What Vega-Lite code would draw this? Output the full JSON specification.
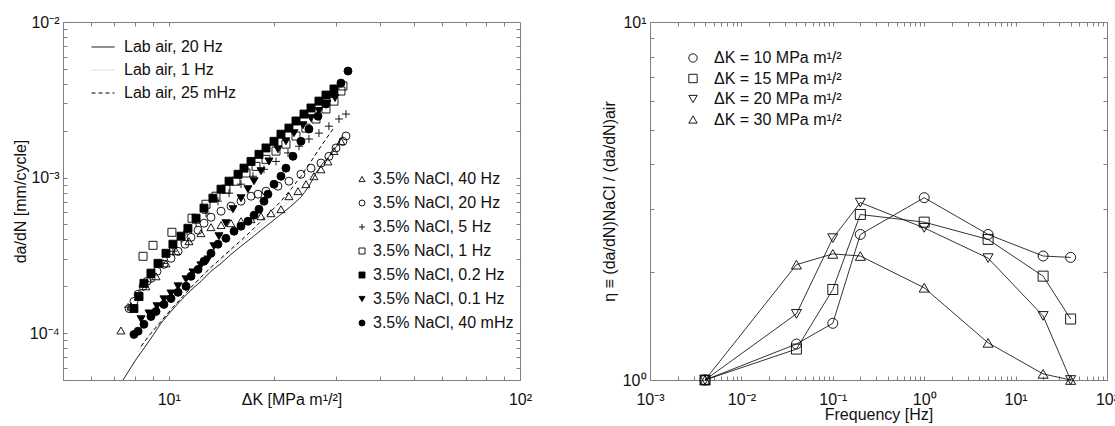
{
  "$schema": "https://vega.github.io/schema/vega-lite/v6.json",
  "background": "white",
  "padding": {"left": 11, "top": 13, "right": 0, "bottom": 0},
  "spacing": 130,
  "bounds": "flush",
  "config": {
    "font": "Liberation Sans",
    "view": {"stroke": "#7f7f7f", "strokeWidth": 1},
    "axis": {
      "labelFont": "Liberation Sans", "titleFont": "Liberation Sans",
      "labelFontSize": 16, "titleFontSize": 16, "titleFontWeight": "normal",
      "labelColor": "#111111", "titleColor": "#111111",
      "domainColor": "#7f7f7f", "tickColor": "#7f7f7f", "tickSize": -4, "tickWidth": 1,
      "grid": false, "labelFlush": false, "labelOverlap": false
    },
    "axisX": {"labelPadding": 15},
    "axisY": {"labelPadding": 8},
    "legend": {"labelFont": "Liberation Sans", "labelFontSize": 16, "labelColor": "#111111", "padding": 0}
  },
  "datasets": {
    "air": [
      {"air": "Lab air, 20 Hz", "dK": 7.41, "dadN": 5.0e-5},
      {"air": "Lab air, 20 Hz", "dK": 7.71, "dadN": 5.76e-5},
      {"air": "Lab air, 20 Hz", "dK": 8.07, "dadN": 6.78e-5},
      {"air": "Lab air, 20 Hz", "dK": 8.50, "dadN": 7.99e-5},
      {"air": "Lab air, 20 Hz", "dK": 9.02, "dadN": 9.68e-5},
      {"air": "Lab air, 20 Hz", "dK": 9.51, "dadN": 1.16e-4},
      {"air": "Lab air, 20 Hz", "dK": 10.15, "dadN": 1.38e-4},
      {"air": "Lab air, 20 Hz", "dK": 10.84, "dadN": 1.63e-4},
      {"air": "Lab air, 20 Hz", "dK": 11.57, "dadN": 1.89e-4},
      {"air": "Lab air, 20 Hz", "dK": 12.35, "dadN": 2.15e-4},
      {"air": "Lab air, 20 Hz", "dK": 13.19, "dadN": 2.50e-4},
      {"air": "Lab air, 20 Hz", "dK": 14.09, "dadN": 2.81e-4},
      {"air": "Lab air, 20 Hz", "dK": 15.04, "dadN": 3.21e-4},
      {"air": "Lab air, 20 Hz", "dK": 16.06, "dadN": 3.62e-4},
      {"air": "Lab air, 20 Hz", "dK": 17.15, "dadN": 4.07e-4},
      {"air": "Lab air, 20 Hz", "dK": 18.31, "dadN": 4.59e-4},
      {"air": "Lab air, 20 Hz", "dK": 19.55, "dadN": 5.16e-4},
      {"air": "Lab air, 20 Hz", "dK": 20.87, "dadN": 5.81e-4},
      {"air": "Lab air, 20 Hz", "dK": 22.28, "dadN": 6.55e-4},
      {"air": "Lab air, 20 Hz", "dK": 23.79, "dadN": 7.48e-4},
      {"air": "Lab air, 20 Hz", "dK": 25.07, "dadN": 8.81e-4},
      {"air": "Lab air, 20 Hz", "dK": 26.25, "dadN": 1.07e-3},
      {"air": "Lab air, 20 Hz", "dK": 27.49, "dadN": 1.24e-3},
      {"air": "Lab air, 20 Hz", "dK": 28.96, "dadN": 1.41e-3},
      {"air": "Lab air, 20 Hz", "dK": 30.32, "dadN": 1.64e-3},
      {"air": "Lab air, 20 Hz", "dK": 31.33, "dadN": 1.85e-3},
      {"air": "Lab air, 1 Hz", "dK": 8.18, "dadN": 7.64e-5},
      {"air": "Lab air, 1 Hz", "dK": 8.61, "dadN": 9.12e-5},
      {"air": "Lab air, 1 Hz", "dK": 9.20, "dadN": 1.11e-4},
      {"air": "Lab air, 1 Hz", "dK": 9.82, "dadN": 1.32e-4},
      {"air": "Lab air, 1 Hz", "dK": 10.49, "dadN": 1.56e-4},
      {"air": "Lab air, 1 Hz", "dK": 11.20, "dadN": 1.80e-4},
      {"air": "Lab air, 1 Hz", "dK": 11.96, "dadN": 2.09e-4},
      {"air": "Lab air, 1 Hz", "dK": 12.77, "dadN": 2.43e-4},
      {"air": "Lab air, 1 Hz", "dK": 13.63, "dadN": 2.77e-4},
      {"air": "Lab air, 1 Hz", "dK": 14.55, "dadN": 3.17e-4},
      {"air": "Lab air, 1 Hz", "dK": 15.54, "dadN": 3.62e-4},
      {"air": "Lab air, 1 Hz", "dK": 16.59, "dadN": 4.07e-4},
      {"air": "Lab air, 1 Hz", "dK": 17.72, "dadN": 4.59e-4},
      {"air": "Lab air, 1 Hz", "dK": 18.92, "dadN": 5.24e-4},
      {"air": "Lab air, 1 Hz", "dK": 20.20, "dadN": 5.90e-4},
      {"air": "Lab air, 1 Hz", "dK": 21.56, "dadN": 6.74e-4},
      {"air": "Lab air, 1 Hz", "dK": 23.03, "dadN": 7.82e-4},
      {"air": "Lab air, 1 Hz", "dK": 24.58, "dadN": 9.21e-4},
      {"air": "Lab air, 1 Hz", "dK": 25.75, "dadN": 1.07e-3},
      {"air": "Lab air, 1 Hz", "dK": 26.77, "dadN": 1.22e-3},
      {"air": "Lab air, 1 Hz", "dK": 28.03, "dadN": 1.37e-3},
      {"air": "Lab air, 25 mHz", "dK": 8.34, "dadN": 8.23e-5},
      {"air": "Lab air, 25 mHz", "dK": 8.90, "dadN": 9.97e-5},
      {"air": "Lab air, 25 mHz", "dK": 9.51, "dadN": 1.19e-4},
      {"air": "Lab air, 25 mHz", "dK": 10.15, "dadN": 1.42e-4},
      {"air": "Lab air, 25 mHz", "dK": 10.84, "dadN": 1.67e-4},
      {"air": "Lab air, 25 mHz", "dK": 11.57, "dadN": 1.97e-4},
      {"air": "Lab air, 25 mHz", "dK": 12.35, "dadN": 2.29e-4},
      {"air": "Lab air, 25 mHz", "dK": 13.19, "dadN": 2.65e-4},
      {"air": "Lab air, 25 mHz", "dK": 14.09, "dadN": 3.03e-4},
      {"air": "Lab air, 25 mHz", "dK": 15.04, "dadN": 3.46e-4},
      {"air": "Lab air, 25 mHz", "dK": 16.06, "dadN": 3.95e-4},
      {"air": "Lab air, 25 mHz", "dK": 17.15, "dadN": 4.52e-4},
      {"air": "Lab air, 25 mHz", "dK": 18.31, "dadN": 5.24e-4},
      {"air": "Lab air, 25 mHz", "dK": 19.55, "dadN": 6.08e-4},
      {"air": "Lab air, 25 mHz", "dK": 20.87, "dadN": 7.05e-4},
      {"air": "Lab air, 25 mHz", "dK": 22.28, "dadN": 8.42e-4},
      {"air": "Lab air, 25 mHz", "dK": 23.79, "dadN": 1.02e-3},
      {"air": "Lab air, 25 mHz", "dK": 25.41, "dadN": 1.27e-3},
      {"air": "Lab air, 25 mHz", "dK": 26.77, "dadN": 1.52e-3},
      {"air": "Lab air, 25 mHz", "dK": 28.03, "dadN": 1.77e-3},
      {"air": "Lab air, 25 mHz", "dK": 29.35, "dadN": 2.05e-3}
    ],
    "nacl": [
      {"series": "3.5% NaCl, 40 Hz", "dK": 7.31, "dadN": 1.04e-4},
      {"series": "3.5% NaCl, 40 Hz", "dK": 7.81, "dadN": 1.49e-4},
      {"series": "3.5% NaCl, 40 Hz", "dK": 8.18, "dadN": 1.72e-4},
      {"series": "3.5% NaCl, 40 Hz", "dK": 8.61, "dadN": 2.00e-4},
      {"series": "3.5% NaCl, 40 Hz", "dK": 9.20, "dadN": 2.32e-4},
      {"series": "3.5% NaCl, 40 Hz", "dK": 9.82, "dadN": 2.81e-4},
      {"series": "3.5% NaCl, 40 Hz", "dK": 10.49, "dadN": 3.36e-4},
      {"series": "3.5% NaCl, 40 Hz", "dK": 11.42, "dadN": 3.90e-4},
      {"series": "3.5% NaCl, 40 Hz", "dK": 12.35, "dadN": 4.39e-4},
      {"series": "3.5% NaCl, 40 Hz", "dK": 13.19, "dadN": 4.80e-4},
      {"series": "3.5% NaCl, 40 Hz", "dK": 14.09, "dadN": 4.95e-4},
      {"series": "3.5% NaCl, 40 Hz", "dK": 15.04, "dadN": 5.09e-4},
      {"series": "3.5% NaCl, 40 Hz", "dK": 16.06, "dadN": 5.24e-4},
      {"series": "3.5% NaCl, 40 Hz", "dK": 17.15, "dadN": 5.40e-4},
      {"series": "3.5% NaCl, 40 Hz", "dK": 18.31, "dadN": 5.64e-4},
      {"series": "3.5% NaCl, 40 Hz", "dK": 19.55, "dadN": 5.90e-4},
      {"series": "3.5% NaCl, 40 Hz", "dK": 20.87, "dadN": 6.26e-4},
      {"series": "3.5% NaCl, 40 Hz", "dK": 21.99, "dadN": 7.59e-4},
      {"series": "3.5% NaCl, 40 Hz", "dK": 23.33, "dadN": 8.18e-4},
      {"series": "3.5% NaCl, 40 Hz", "dK": 24.58, "dadN": 9.07e-4},
      {"series": "3.5% NaCl, 40 Hz", "dK": 25.91, "dadN": 1.02e-3},
      {"series": "3.5% NaCl, 40 Hz", "dK": 27.13, "dadN": 1.13e-3},
      {"series": "3.5% NaCl, 40 Hz", "dK": 28.40, "dadN": 1.27e-3},
      {"series": "3.5% NaCl, 40 Hz", "dK": 29.54, "dadN": 1.48e-3},
      {"series": "3.5% NaCl, 40 Hz", "dK": 30.92, "dadN": 1.71e-3},
      {"series": "3.5% NaCl, 20 Hz", "dK": 7.71, "dadN": 1.44e-4},
      {"series": "3.5% NaCl, 20 Hz", "dK": 7.96, "dadN": 1.60e-4},
      {"series": "3.5% NaCl, 20 Hz", "dK": 8.18, "dadN": 1.78e-4},
      {"series": "3.5% NaCl, 20 Hz", "dK": 8.45, "dadN": 2.00e-4},
      {"series": "3.5% NaCl, 20 Hz", "dK": 8.67, "dadN": 2.15e-4},
      {"series": "3.5% NaCl, 20 Hz", "dK": 8.90, "dadN": 2.25e-4},
      {"series": "3.5% NaCl, 20 Hz", "dK": 9.26, "dadN": 2.50e-4},
      {"series": "3.5% NaCl, 20 Hz", "dK": 9.69, "dadN": 2.77e-4},
      {"series": "3.5% NaCl, 20 Hz", "dK": 10.15, "dadN": 3.03e-4},
      {"series": "3.5% NaCl, 20 Hz", "dK": 10.63, "dadN": 3.36e-4},
      {"series": "3.5% NaCl, 20 Hz", "dK": 11.13, "dadN": 3.73e-4},
      {"series": "3.5% NaCl, 20 Hz", "dK": 11.57, "dadN": 4.13e-4},
      {"series": "3.5% NaCl, 20 Hz", "dK": 12.12, "dadN": 4.59e-4},
      {"series": "3.5% NaCl, 20 Hz", "dK": 12.60, "dadN": 5.09e-4},
      {"series": "3.5% NaCl, 20 Hz", "dK": 13.19, "dadN": 5.56e-4},
      {"series": "3.5% NaCl, 20 Hz", "dK": 14.09, "dadN": 6.08e-4},
      {"series": "3.5% NaCl, 20 Hz", "dK": 15.04, "dadN": 6.55e-4},
      {"series": "3.5% NaCl, 20 Hz", "dK": 16.06, "dadN": 7.05e-4},
      {"series": "3.5% NaCl, 20 Hz", "dK": 17.15, "dadN": 7.59e-4},
      {"series": "3.5% NaCl, 20 Hz", "dK": 17.95, "dadN": 7.82e-4},
      {"series": "3.5% NaCl, 20 Hz", "dK": 18.92, "dadN": 8.18e-4},
      {"series": "3.5% NaCl, 20 Hz", "dK": 20.46, "dadN": 8.81e-4},
      {"series": "3.5% NaCl, 20 Hz", "dK": 21.99, "dadN": 9.48e-4},
      {"series": "3.5% NaCl, 20 Hz", "dK": 23.79, "dadN": 1.05e-3},
      {"series": "3.5% NaCl, 20 Hz", "dK": 25.41, "dadN": 1.15e-3},
      {"series": "3.5% NaCl, 20 Hz", "dK": 27.13, "dadN": 1.24e-3},
      {"series": "3.5% NaCl, 20 Hz", "dK": 28.58, "dadN": 1.37e-3},
      {"series": "3.5% NaCl, 20 Hz", "dK": 29.93, "dadN": 1.55e-3},
      {"series": "3.5% NaCl, 20 Hz", "dK": 31.33, "dadN": 1.71e-3},
      {"series": "3.5% NaCl, 20 Hz", "dK": 31.96, "dadN": 1.85e-3},
      {"series": "3.5% NaCl, 5 Hz", "dK": 7.66, "dadN": 1.47e-4},
      {"series": "3.5% NaCl, 5 Hz", "dK": 8.23, "dadN": 1.80e-4},
      {"series": "3.5% NaCl, 5 Hz", "dK": 8.90, "dadN": 2.28e-4},
      {"series": "3.5% NaCl, 5 Hz", "dK": 9.63, "dadN": 2.81e-4},
      {"series": "3.5% NaCl, 5 Hz", "dK": 10.28, "dadN": 3.36e-4},
      {"series": "3.5% NaCl, 5 Hz", "dK": 10.84, "dadN": 4.01e-4},
      {"series": "3.5% NaCl, 5 Hz", "dK": 11.27, "dadN": 4.52e-4},
      {"series": "3.5% NaCl, 5 Hz", "dK": 11.96, "dadN": 5.09e-4},
      {"series": "3.5% NaCl, 5 Hz", "dK": 12.77, "dadN": 5.90e-4},
      {"series": "3.5% NaCl, 5 Hz", "dK": 13.81, "dadN": 7.05e-4},
      {"series": "3.5% NaCl, 5 Hz", "dK": 14.85, "dadN": 7.94e-4},
      {"series": "3.5% NaCl, 5 Hz", "dK": 16.06, "dadN": 9.07e-4},
      {"series": "3.5% NaCl, 5 Hz", "dK": 17.37, "dadN": 1.02e-3},
      {"series": "3.5% NaCl, 5 Hz", "dK": 18.67, "dadN": 1.13e-3},
      {"series": "3.5% NaCl, 5 Hz", "dK": 20.20, "dadN": 1.27e-3},
      {"series": "3.5% NaCl, 5 Hz", "dK": 21.85, "dadN": 1.44e-3},
      {"series": "3.5% NaCl, 5 Hz", "dK": 23.49, "dadN": 1.59e-3},
      {"series": "3.5% NaCl, 5 Hz", "dK": 25.07, "dadN": 1.77e-3},
      {"series": "3.5% NaCl, 5 Hz", "dK": 26.77, "dadN": 1.93e-3},
      {"series": "3.5% NaCl, 5 Hz", "dK": 28.58, "dadN": 2.14e-3},
      {"series": "3.5% NaCl, 5 Hz", "dK": 30.52, "dadN": 2.38e-3},
      {"series": "3.5% NaCl, 5 Hz", "dK": 31.96, "dadN": 2.56e-3},
      {"series": "3.5% NaCl, 1 Hz", "dK": 8.45, "dadN": 3.12e-4},
      {"series": "3.5% NaCl, 1 Hz", "dK": 9.02, "dadN": 3.67e-4},
      {"series": "3.5% NaCl, 1 Hz", "dK": 10.21, "dadN": 4.45e-4},
      {"series": "3.5% NaCl, 1 Hz", "dK": 11.65, "dadN": 5.48e-4},
      {"series": "3.5% NaCl, 1 Hz", "dK": 12.77, "dadN": 6.74e-4},
      {"series": "3.5% NaCl, 1 Hz", "dK": 13.63, "dadN": 7.59e-4},
      {"series": "3.5% NaCl, 1 Hz", "dK": 14.55, "dadN": 8.42e-4},
      {"series": "3.5% NaCl, 1 Hz", "dK": 15.54, "dadN": 9.48e-4},
      {"series": "3.5% NaCl, 1 Hz", "dK": 16.59, "dadN": 1.07e-3},
      {"series": "3.5% NaCl, 1 Hz", "dK": 17.72, "dadN": 1.18e-3},
      {"series": "3.5% NaCl, 1 Hz", "dK": 18.92, "dadN": 1.31e-3},
      {"series": "3.5% NaCl, 1 Hz", "dK": 20.20, "dadN": 1.48e-3},
      {"series": "3.5% NaCl, 1 Hz", "dK": 21.56, "dadN": 1.64e-3},
      {"series": "3.5% NaCl, 1 Hz", "dK": 23.03, "dadN": 1.85e-3},
      {"series": "3.5% NaCl, 1 Hz", "dK": 24.58, "dadN": 2.08e-3},
      {"series": "3.5% NaCl, 1 Hz", "dK": 26.25, "dadN": 2.38e-3},
      {"series": "3.5% NaCl, 1 Hz", "dK": 28.03, "dadN": 2.76e-3},
      {"series": "3.5% NaCl, 1 Hz", "dK": 29.54, "dadN": 3.10e-3},
      {"series": "3.5% NaCl, 1 Hz", "dK": 30.92, "dadN": 3.60e-3},
      {"series": "3.5% NaCl, 1 Hz", "dK": 31.33, "dadN": 3.88e-3},
      {"series": "3.5% NaCl, 0.2 Hz", "dK": 7.96, "dadN": 1.44e-4},
      {"series": "3.5% NaCl, 0.2 Hz", "dK": 8.23, "dadN": 1.72e-4},
      {"series": "3.5% NaCl, 0.2 Hz", "dK": 8.50, "dadN": 2.09e-4},
      {"series": "3.5% NaCl, 0.2 Hz", "dK": 8.90, "dadN": 2.43e-4},
      {"series": "3.5% NaCl, 0.2 Hz", "dK": 9.32, "dadN": 2.81e-4},
      {"series": "3.5% NaCl, 0.2 Hz", "dK": 9.82, "dadN": 3.26e-4},
      {"series": "3.5% NaCl, 0.2 Hz", "dK": 10.28, "dadN": 3.73e-4},
      {"series": "3.5% NaCl, 0.2 Hz", "dK": 10.84, "dadN": 4.20e-4},
      {"series": "3.5% NaCl, 0.2 Hz", "dK": 11.34, "dadN": 4.72e-4},
      {"series": "3.5% NaCl, 0.2 Hz", "dK": 11.96, "dadN": 5.48e-4},
      {"series": "3.5% NaCl, 0.2 Hz", "dK": 12.60, "dadN": 6.36e-4},
      {"series": "3.5% NaCl, 0.2 Hz", "dK": 13.36, "dadN": 7.37e-4},
      {"series": "3.5% NaCl, 0.2 Hz", "dK": 14.09, "dadN": 8.42e-4},
      {"series": "3.5% NaCl, 0.2 Hz", "dK": 14.85, "dadN": 9.48e-4},
      {"series": "3.5% NaCl, 0.2 Hz", "dK": 15.75, "dadN": 1.05e-3},
      {"series": "3.5% NaCl, 0.2 Hz", "dK": 16.38, "dadN": 1.15e-3},
      {"series": "3.5% NaCl, 0.2 Hz", "dK": 17.15, "dadN": 1.27e-3},
      {"series": "3.5% NaCl, 0.2 Hz", "dK": 18.07, "dadN": 1.41e-3},
      {"series": "3.5% NaCl, 0.2 Hz", "dK": 18.92, "dadN": 1.55e-3},
      {"series": "3.5% NaCl, 0.2 Hz", "dK": 19.94, "dadN": 1.71e-3},
      {"series": "3.5% NaCl, 0.2 Hz", "dK": 20.87, "dadN": 1.90e-3},
      {"series": "3.5% NaCl, 0.2 Hz", "dK": 21.99, "dadN": 2.08e-3},
      {"series": "3.5% NaCl, 0.2 Hz", "dK": 23.03, "dadN": 2.31e-3},
      {"series": "3.5% NaCl, 0.2 Hz", "dK": 24.27, "dadN": 2.56e-3},
      {"series": "3.5% NaCl, 0.2 Hz", "dK": 25.41, "dadN": 2.80e-3},
      {"series": "3.5% NaCl, 0.2 Hz", "dK": 26.77, "dadN": 3.10e-3},
      {"series": "3.5% NaCl, 0.2 Hz", "dK": 28.03, "dadN": 3.39e-3},
      {"series": "3.5% NaCl, 0.2 Hz", "dK": 29.54, "dadN": 3.71e-3},
      {"series": "3.5% NaCl, 0.1 Hz", "dK": 8.34, "dadN": 1.23e-4},
      {"series": "3.5% NaCl, 0.1 Hz", "dK": 8.79, "dadN": 1.34e-4},
      {"series": "3.5% NaCl, 0.1 Hz", "dK": 9.26, "dadN": 1.49e-4},
      {"series": "3.5% NaCl, 0.1 Hz", "dK": 9.69, "dadN": 1.65e-4},
      {"series": "3.5% NaCl, 0.1 Hz", "dK": 10.15, "dadN": 1.80e-4},
      {"series": "3.5% NaCl, 0.1 Hz", "dK": 10.63, "dadN": 2.00e-4},
      {"series": "3.5% NaCl, 0.1 Hz", "dK": 11.20, "dadN": 2.22e-4},
      {"series": "3.5% NaCl, 0.1 Hz", "dK": 11.72, "dadN": 2.46e-4},
      {"series": "3.5% NaCl, 0.1 Hz", "dK": 12.35, "dadN": 2.73e-4},
      {"series": "3.5% NaCl, 0.1 Hz", "dK": 12.93, "dadN": 2.98e-4},
      {"series": "3.5% NaCl, 0.1 Hz", "dK": 13.45, "dadN": 3.62e-4},
      {"series": "3.5% NaCl, 0.1 Hz", "dK": 13.90, "dadN": 4.20e-4},
      {"series": "3.5% NaCl, 0.1 Hz", "dK": 14.55, "dadN": 5.09e-4},
      {"series": "3.5% NaCl, 0.1 Hz", "dK": 15.24, "dadN": 6.26e-4},
      {"series": "3.5% NaCl, 0.1 Hz", "dK": 16.06, "dadN": 7.37e-4},
      {"series": "3.5% NaCl, 0.1 Hz", "dK": 16.81, "dadN": 8.42e-4},
      {"series": "3.5% NaCl, 0.1 Hz", "dK": 17.49, "dadN": 9.48e-4},
      {"series": "3.5% NaCl, 0.1 Hz", "dK": 18.31, "dadN": 1.10e-3},
      {"series": "3.5% NaCl, 0.1 Hz", "dK": 19.29, "dadN": 1.27e-3},
      {"series": "3.5% NaCl, 0.1 Hz", "dK": 20.46, "dadN": 1.52e-3},
      {"series": "3.5% NaCl, 0.1 Hz", "dK": 21.56, "dadN": 1.71e-3},
      {"series": "3.5% NaCl, 0.1 Hz", "dK": 22.73, "dadN": 1.93e-3},
      {"series": "3.5% NaCl, 0.1 Hz", "dK": 24.11, "dadN": 2.17e-3},
      {"series": "3.5% NaCl, 0.1 Hz", "dK": 25.41, "dadN": 2.41e-3},
      {"series": "3.5% NaCl, 0.1 Hz", "dK": 26.77, "dadN": 2.68e-3},
      {"series": "3.5% NaCl, 0.1 Hz", "dK": 28.21, "dadN": 2.97e-3},
      {"series": "3.5% NaCl, 0.1 Hz", "dK": 29.74, "dadN": 3.25e-3},
      {"series": "3.5% NaCl, 40 mHz", "dK": 7.96, "dadN": 9.82e-5},
      {"series": "3.5% NaCl, 40 mHz", "dK": 8.18, "dadN": 1.03e-4},
      {"series": "3.5% NaCl, 40 mHz", "dK": 8.50, "dadN": 1.14e-4},
      {"series": "3.5% NaCl, 40 mHz", "dK": 8.90, "dadN": 1.28e-4},
      {"series": "3.5% NaCl, 40 mHz", "dK": 9.20, "dadN": 1.38e-4},
      {"series": "3.5% NaCl, 40 mHz", "dK": 9.69, "dadN": 1.53e-4},
      {"series": "3.5% NaCl, 40 mHz", "dK": 10.15, "dadN": 1.67e-4},
      {"series": "3.5% NaCl, 40 mHz", "dK": 10.63, "dadN": 1.83e-4},
      {"series": "3.5% NaCl, 40 mHz", "dK": 11.20, "dadN": 2.00e-4},
      {"series": "3.5% NaCl, 40 mHz", "dK": 11.57, "dadN": 2.32e-4},
      {"series": "3.5% NaCl, 40 mHz", "dK": 12.12, "dadN": 2.57e-4},
      {"series": "3.5% NaCl, 40 mHz", "dK": 12.60, "dadN": 2.90e-4},
      {"series": "3.5% NaCl, 40 mHz", "dK": 13.19, "dadN": 3.26e-4},
      {"series": "3.5% NaCl, 40 mHz", "dK": 13.81, "dadN": 3.73e-4},
      {"series": "3.5% NaCl, 40 mHz", "dK": 14.55, "dadN": 4.07e-4},
      {"series": "3.5% NaCl, 40 mHz", "dK": 15.34, "dadN": 4.52e-4},
      {"series": "3.5% NaCl, 40 mHz", "dK": 16.06, "dadN": 4.87e-4},
      {"series": "3.5% NaCl, 40 mHz", "dK": 16.81, "dadN": 5.24e-4},
      {"series": "3.5% NaCl, 40 mHz", "dK": 17.49, "dadN": 5.73e-4},
      {"series": "3.5% NaCl, 40 mHz", "dK": 18.07, "dadN": 6.26e-4},
      {"series": "3.5% NaCl, 40 mHz", "dK": 18.67, "dadN": 7.05e-4},
      {"series": "3.5% NaCl, 40 mHz", "dK": 19.16, "dadN": 7.82e-4},
      {"series": "3.5% NaCl, 40 mHz", "dK": 19.94, "dadN": 9.07e-4},
      {"series": "3.5% NaCl, 40 mHz", "dK": 20.87, "dadN": 1.02e-3},
      {"series": "3.5% NaCl, 40 mHz", "dK": 21.56, "dadN": 1.15e-3},
      {"series": "3.5% NaCl, 40 mHz", "dK": 22.58, "dadN": 1.37e-3},
      {"series": "3.5% NaCl, 40 mHz", "dK": 23.79, "dadN": 1.71e-3},
      {"series": "3.5% NaCl, 40 mHz", "dK": 25.07, "dadN": 2.05e-3},
      {"series": "3.5% NaCl, 40 mHz", "dK": 26.60, "dadN": 2.48e-3},
      {"series": "3.5% NaCl, 40 mHz", "dK": 28.03, "dadN": 2.97e-3},
      {"series": "3.5% NaCl, 40 mHz", "dK": 29.54, "dadN": 3.44e-3},
      {"series": "3.5% NaCl, 40 mHz", "dK": 30.92, "dadN": 4.05e-3},
      {"series": "3.5% NaCl, 40 mHz", "dK": 32.38, "dadN": 4.84e-3}
    ],
    "eta": [
      {"dk": "ΔK = 10 MPa m¹/²", "f": 0.004, "eta": 1.0},
      {"dk": "ΔK = 10 MPa m¹/²", "f": 0.04, "eta": 1.26},
      {"dk": "ΔK = 10 MPa m¹/²", "f": 0.1, "eta": 1.44},
      {"dk": "ΔK = 10 MPa m¹/²", "f": 0.2, "eta": 2.55},
      {"dk": "ΔK = 10 MPa m¹/²", "f": 1, "eta": 3.23},
      {"dk": "ΔK = 10 MPa m¹/²", "f": 5, "eta": 2.55},
      {"dk": "ΔK = 10 MPa m¹/²", "f": 20, "eta": 2.22},
      {"dk": "ΔK = 10 MPa m¹/²", "f": 40, "eta": 2.2},
      {"dk": "ΔK = 15 MPa m¹/²", "f": 0.004, "eta": 1.0},
      {"dk": "ΔK = 15 MPa m¹/²", "f": 0.04, "eta": 1.22},
      {"dk": "ΔK = 15 MPa m¹/²", "f": 0.1, "eta": 1.79},
      {"dk": "ΔK = 15 MPa m¹/²", "f": 0.2, "eta": 2.9},
      {"dk": "ΔK = 15 MPa m¹/²", "f": 1, "eta": 2.76},
      {"dk": "ΔK = 15 MPa m¹/²", "f": 5, "eta": 2.47},
      {"dk": "ΔK = 15 MPa m¹/²", "f": 20, "eta": 1.95},
      {"dk": "ΔK = 15 MPa m¹/²", "f": 40, "eta": 1.48},
      {"dk": "ΔK = 20 MPa m¹/²", "f": 0.004, "eta": 1.0},
      {"dk": "ΔK = 20 MPa m¹/²", "f": 0.04, "eta": 1.53},
      {"dk": "ΔK = 20 MPa m¹/²", "f": 0.1, "eta": 2.49},
      {"dk": "ΔK = 20 MPa m¹/²", "f": 0.2, "eta": 3.13},
      {"dk": "ΔK = 20 MPa m¹/²", "f": 1, "eta": 2.66},
      {"dk": "ΔK = 20 MPa m¹/²", "f": 5, "eta": 2.19},
      {"dk": "ΔK = 20 MPa m¹/²", "f": 20, "eta": 1.51},
      {"dk": "ΔK = 20 MPa m¹/²", "f": 40, "eta": 1.0},
      {"dk": "ΔK = 30 MPa m¹/²", "f": 0.004, "eta": 1.0},
      {"dk": "ΔK = 30 MPa m¹/²", "f": 0.04, "eta": 2.1},
      {"dk": "ΔK = 30 MPa m¹/²", "f": 0.1, "eta": 2.25},
      {"dk": "ΔK = 30 MPa m¹/²", "f": 0.2, "eta": 2.22},
      {"dk": "ΔK = 30 MPa m¹/²", "f": 1, "eta": 1.81},
      {"dk": "ΔK = 30 MPa m¹/²", "f": 5, "eta": 1.27},
      {"dk": "ΔK = 30 MPa m¹/²", "f": 20, "eta": 1.04},
      {"dk": "ΔK = 30 MPa m¹/²", "f": 40, "eta": 1.0}
    ]
  },
  "hconcat": [
    {
      "width": 457,
      "height": 358,
      "layer": [
        {
          "data": {"name": "air"},
          "mark": {"type": "line", "strokeWidth": 1, "clip": true},
          "encoding": {
            "x": {"field": "dK", "type": "quantitative",
              "scale": {"type": "log", "domain": [5, 100], "nice": false},
              "axis": {"orient": "bottom", "values": [6, 7, 8, 9, 10, 20, 30, 40, 50, 60, 70, 80, 90, 100],
                "labelExpr": "datum.value == 10 ? '10¹' : datum.value == 100 ? '10²' : ''",
                "title": "ΔK [MPa m¹/²]", "titleY": 11, "titleBaseline": "top"}},
            "y": {"field": "dadN", "type": "quantitative",
              "scale": {"type": "log", "domain": [0.00005, 0.01], "nice": false},
              "axis": {"orient": "left",
                "values": [0.00005, 0.00006, 0.00007, 0.00008, 0.00009, 0.0001, 0.0002, 0.0003, 0.0004, 0.0005, 0.0006, 0.0007, 0.0008, 0.0009, 0.001, 0.002, 0.003, 0.004, 0.005, 0.006, 0.007, 0.008, 0.009, 0.01],
                "labelExpr": "datum.value == 0.01 ? '10⁻²' : datum.value == 0.001 ? '10⁻³' : datum.value == 0.0001 ? '10⁻⁴' : ''",
                "title": "da/dN [mm/cycle]", "titleX": -43, "titleBaseline": "middle"}},
            "stroke": {"field": "air", "type": "nominal",
              "scale": {"domain": ["Lab air, 20 Hz", "Lab air, 1 Hz", "Lab air, 25 mHz"], "range": ["#000000", "#a0a0a0", "#000000"]},
              "legend": {"title": null, "orient": "none", "legendX": 28, "legendY": 13, "symbolType": "stroke", "symbolSize": 529, "symbolStrokeWidth": 1, "labelOffset": 9, "rowPadding": 3}},
            "strokeDash": {"field": "air", "type": "nominal",
              "scale": {"domain": ["Lab air, 20 Hz", "Lab air, 1 Hz", "Lab air, 25 mHz"], "range": [[1, 0], [1, 2], [4, 3]]},
              "legend": {"title": null, "orient": "none", "legendX": 28, "legendY": 13, "symbolType": "stroke", "symbolSize": 529, "symbolStrokeWidth": 1, "labelOffset": 9, "rowPadding": 3}}
          }
        },
        {
          "data": {"name": "nacl"},
          "mark": {"type": "point", "size": 64, "stroke": "black", "strokeWidth": 0.9, "opacity": 1},
          "encoding": {
            "x": {"field": "dK", "type": "quantitative",
              "scale": {"type": "log", "domain": [5, 100], "nice": false},
              "axis": {"orient": "top", "values": [6, 7, 8, 9, 10, 20, 30, 40, 50, 60, 70, 80, 90], "labels": false, "title": null, "domain": false}},
            "y": {"field": "dadN", "type": "quantitative",
              "scale": {"type": "log", "domain": [0.00005, 0.01], "nice": false},
              "axis": {"orient": "right",
                "values": [0.00006, 0.00007, 0.00008, 0.00009, 0.0001, 0.0002, 0.0003, 0.0004, 0.0005, 0.0006, 0.0007, 0.0008, 0.0009, 0.001, 0.002, 0.003, 0.004, 0.005, 0.006, 0.007, 0.008, 0.009],
                "labels": false, "title": null, "domain": false}},
            "shape": {"field": "series", "type": "nominal",
              "scale": {"domain": ["3.5% NaCl, 40 Hz", "3.5% NaCl, 20 Hz", "3.5% NaCl, 5 Hz", "3.5% NaCl, 1 Hz", "3.5% NaCl, 0.2 Hz", "3.5% NaCl, 0.1 Hz", "3.5% NaCl, 40 mHz"],
                "range": ["triangle-up", "circle", "M-1,0H1M0,-1V1", "square", "square", "triangle-down", "circle"]},
              "legend": {"title": null, "orient": "none", "legendX": 291, "legendY": 149, "symbolSize": 36, "symbolStrokeWidth": 0.9, "labelOffset": 3, "rowPadding": 8,
                "encode": {"symbols": {
                  "stroke": {"value": "black"},
                  "strokeWidth": {"value": 0.9},
                  "fill": {"condition": {"test": "indexof(['3.5% NaCl, 0.2 Hz', '3.5% NaCl, 0.1 Hz', '3.5% NaCl, 40 mHz'], datum.value) >= 0", "value": "black"}, "value": "transparent"}
                }}}},
            "fill": {"field": "series", "type": "nominal",
              "scale": {"domain": ["3.5% NaCl, 40 Hz", "3.5% NaCl, 20 Hz", "3.5% NaCl, 5 Hz", "3.5% NaCl, 1 Hz", "3.5% NaCl, 0.2 Hz", "3.5% NaCl, 0.1 Hz", "3.5% NaCl, 40 mHz"],
                "range": ["transparent", "transparent", "transparent", "transparent", "#000000", "#000000", "#000000"]},
              "legend": null}
          }
        }
      ],
      "resolve": {"axis": {"x": "independent", "y": "independent"}}
    },
    {
      "width": 457,
      "height": 358,
      "layer": [
        {
          "data": {"name": "eta"},
          "mark": {"type": "line", "color": "black", "strokeWidth": 0.8},
          "encoding": {
            "x": {"field": "f", "type": "quantitative",
              "scale": {"type": "log", "domain": [0.001, 100], "nice": false},
              "axis": {"orient": "bottom",
                "values": [0.001, 0.002, 0.003, 0.004, 0.005, 0.006, 0.007, 0.008, 0.009, 0.01, 0.02, 0.03, 0.04, 0.05, 0.06, 0.07, 0.08, 0.09, 0.1, 0.2, 0.3, 0.4, 0.5, 0.6, 0.7, 0.8, 0.9, 1, 2, 3, 4, 5, 6, 7, 8, 9, 10, 20, 30, 40, 50, 60, 70, 80, 90, 100],
                "labelExpr": "datum.value == 0.001 ? '10⁻³' : datum.value == 0.01 ? '10⁻²' : datum.value == 0.1 ? '10⁻¹' : datum.value == 1 ? '10⁰' : datum.value == 10 ? '10¹' : datum.value == 100 ? '10²' : ''",
                "title": "Frequency [Hz]", "titleY": 26, "titleBaseline": "top"}},
            "y": {"field": "eta", "type": "quantitative",
              "scale": {"type": "log", "domain": [1, 10], "nice": false},
              "axis": {"orient": "left", "values": [1, 2, 3, 4, 5, 6, 7, 8, 9, 10],
                "labelExpr": "datum.value == 1 ? '10⁰' : datum.value == 10 ? '10¹' : ''",
                "title": "η ≡ (da/dN)NaCl / (da/dN)air", "titleX": -41, "titleBaseline": "middle"}},
            "detail": {"field": "dk", "type": "nominal"}
          }
        },
        {
          "data": {"name": "eta"},
          "mark": {"type": "point", "size": 100, "stroke": "black", "fill": "transparent", "strokeWidth": 0.9, "opacity": 1},
          "encoding": {
            "x": {"field": "f", "type": "quantitative",
              "scale": {"type": "log", "domain": [0.001, 100], "nice": false},
              "axis": {"orient": "top",
                "values": [0.002, 0.003, 0.004, 0.005, 0.006, 0.007, 0.008, 0.009, 0.01, 0.02, 0.03, 0.04, 0.05, 0.06, 0.07, 0.08, 0.09, 0.1, 0.2, 0.3, 0.4, 0.5, 0.6, 0.7, 0.8, 0.9, 1, 2, 3, 4, 5, 6, 7, 8, 9, 10, 20, 30, 40, 50, 60, 70, 80, 90],
                "labels": false, "title": null, "domain": false}},
            "y": {"field": "eta", "type": "quantitative",
              "scale": {"type": "log", "domain": [1, 10], "nice": false},
              "axis": {"orient": "right", "values": [2, 3, 4, 5, 6, 7, 8, 9], "labels": false, "title": null, "domain": false}},
            "shape": {"field": "dk", "type": "nominal",
              "scale": {"domain": ["ΔK = 10 MPa m¹/²", "ΔK = 15 MPa m¹/²", "ΔK = 20 MPa m¹/²", "ΔK = 30 MPa m¹/²"],
                "range": ["circle", "square", "triangle-down", "triangle-up"]},
              "legend": {"title": null, "orient": "none", "legendX": 35, "legendY": 28, "symbolSize": 70, "symbolStrokeColor": "black", "symbolFillColor": "transparent", "symbolStrokeWidth": 0.9, "labelOffset": 13, "rowPadding": 4.5}}
          }
        }
      ],
      "resolve": {"axis": {"x": "independent", "y": "independent"}}
    }
  ],
  "resolve": {
    "scale": {"shape": "independent", "fill": "independent", "stroke": "independent", "strokeDash": "independent", "x": "independent", "y": "independent"},
    "legend": {"shape": "independent", "fill": "independent", "stroke": "independent", "strokeDash": "independent"}
  }
}
